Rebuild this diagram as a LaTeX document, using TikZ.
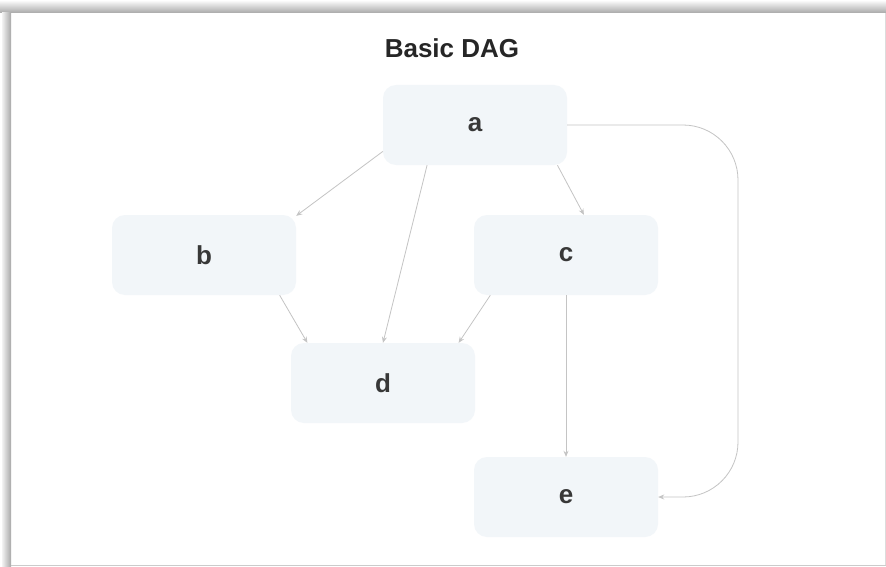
\documentclass[tikz,border=0pt]{standalone}
\usepackage{fontspec}
\setmainfont{Liberation Sans}
\usetikzlibrary{arrows.meta}
\definecolor{nodefill}{HTML}{F2F6F9}
\definecolor{labelgray}{HTML}{383838}
\definecolor{edgegray}{HTML}{C4C4C4}
\definecolor{framegray}{HTML}{A8A8A8}

\begin{document}
\begin{tikzpicture}[x=1pt,y=-1pt,
    dagnode/.style={fill=nodefill, rounded corners=13pt, minimum width=184pt,
      minimum height=80pt, text=labelgray, font=\fontsize{26}{30}\selectfont\bfseries},
    edge/.style={draw=edgegray, line width=0.8pt,
      -{Stealth[length=6pt,width=5pt,fill=edgegray]}}]
  \useasboundingbox (0,0) rectangle (886,567);
  \fill[white] (0,0) rectangle (886,567);
  % frame of the screenshot
  \shade[top color=white!85!framegray, bottom color=framegray] (0,2) rectangle (886,13);
  \shade[left color=white!85!framegray, right color=framegray] (2,13) rectangle (11,567);
  \draw[framegray!60, line width=1pt] (11,565) -- (886,565);
  \draw[framegray!40, line width=1pt] (885.5,13) -- (885.5,565);

  \node[font=\fontsize{26}{30}\selectfont\bfseries, text=black!85] (title) at (452,48) {Basic DAG};

  \node[dagnode] (a) at (475,125) {a};
  \node[dagnode] (b) at (204,255) {b};
  \node[dagnode] (c) at (566,255) {c};
  \node[dagnode] (d) at (383,383) {d};
  \node[dagnode] (e) at (566,497) {e};
  \coordinate (rail) at (738,0);

  \draw[edge] (a.196) -- (b.23);
  \draw[edge] (a.220) -- (d.north);
  \draw[edge] (a.334) -- (c.66);
  \draw[edge] (b.332) -- (d.152);
  \draw[edge] (c.208) -- (d.28);
  \draw[edge] (c.south) -- (e.north);
  \draw[edge, rounded corners=55pt] (a.east) -| (rail |- e.east) -- (e.east);
\end{tikzpicture}
\end{document}
